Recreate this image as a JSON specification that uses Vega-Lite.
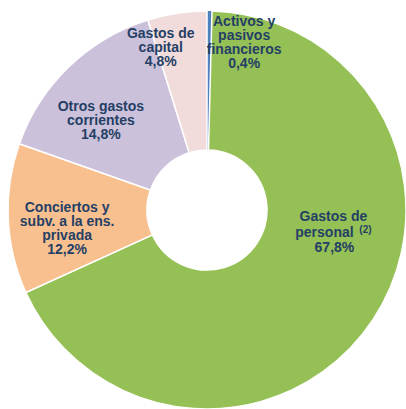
{
  "$schema": "https://vega.github.io/schema/vega-lite/v6.json",
  "width": 398,
  "height": 400,
  "padding": {"left": 8, "top": 10, "right": 0, "bottom": 0},
  "autosize": {"type": "none"},
  "background": "white",
  "config": {"view": {"stroke": null}},
  "data": {
    "values": [
      {"idx": 1, "cat": "Activos", "value": 0.4, "label": "Activos y\npasivos\nfinancieros\n0,4%", "line2": "", "note": "", "line3": ""},
      {"idx": 2, "cat": "Personal", "value": 67.8, "label": "Gastos de", "line2": "personal", "note": "(2)", "line3": "67,8%"},
      {"idx": 3, "cat": "Conciertos", "value": 12.2, "label": "Conciertos y\nsubv. a la ens.\nprivada\n12,2%", "line2": "", "note": "", "line3": ""},
      {"idx": 4, "cat": "Otros", "value": 14.8, "label": "Otros gastos\ncorrientes\n14,8%", "line2": "", "note": "", "line3": ""},
      {"idx": 5, "cat": "Capital", "value": 4.8, "label": "Gastos de\ncapital\n4,8%", "line2": "", "note": "", "line3": ""}
    ]
  },
  "encoding": {
    "theta": {"field": "value", "type": "quantitative", "stack": true},
    "order": {"field": "idx", "type": "quantitative"}
  },
  "layer": [
    {
      "mark": {"type": "arc", "outerRadius": 199, "innerRadius": 60, "stroke": "white"},
      "encoding": {
        "color": {
          "field": "cat", "type": "nominal", "legend": null,
          "scale": {
            "domain": ["Activos", "Personal", "Conciertos", "Otros", "Capital"],
            "range": ["#4F81BD", "#95C055", "#F9C08F", "#CCC1DA", "#F2DCDB"]
          }
        },
        "strokeWidth": {"condition": {"test": "datum.cat == 'Activos'", "value": 0}, "value": 1.5}
      }
    },
    {
      "mark": {"type": "text", "radius": 170, "dx": 35, "dy": -18, "lineBreak": "\n", "font": "Liberation Sans", "fontWeight": "bold", "fontSize": 14, "lineHeight": 14, "color": "#243F66", "align": "center", "baseline": "middle"},
      "encoding": {"text": {"condition": {"test": "datum.cat == 'Activos'", "field": "label"}, "value": ""}}
    },
    {
      "mark": {"type": "text", "radius": 130, "dx": 18, "dy": -65, "font": "Liberation Sans", "fontWeight": "bold", "fontSize": 14, "color": "#243F66", "align": "center", "baseline": "middle"},
      "encoding": {"text": {"condition": {"test": "datum.cat == 'Personal'", "field": "label"}, "value": ""}}
    },
    {
      "mark": {"type": "text", "radius": 130, "dx": 9, "dy": -48.5, "font": "Liberation Sans", "fontWeight": "bold", "fontSize": 14, "color": "#243F66", "align": "center", "baseline": "middle"},
      "encoding": {"text": {"field": "line2"}}
    },
    {
      "mark": {"type": "text", "radius": 130, "dx": 50, "dy": -52, "font": "Liberation Sans", "fontWeight": "bold", "fontSize": 10, "color": "#243F66", "align": "center", "baseline": "middle"},
      "encoding": {"text": {"field": "note"}}
    },
    {
      "mark": {"type": "text", "radius": 130, "dx": 19, "dy": -34, "font": "Liberation Sans", "fontWeight": "bold", "fontSize": 14, "color": "#243F66", "align": "center", "baseline": "middle"},
      "encoding": {"text": {"field": "line3"}}
    },
    {
      "mark": {"type": "text", "radius": 140, "dx": 0, "dy": -8, "lineBreak": "\n", "font": "Liberation Sans", "fontWeight": "bold", "fontSize": 14, "lineHeight": 14, "color": "#243F66", "align": "center", "baseline": "middle"},
      "encoding": {"text": {"condition": {"test": "datum.cat == 'Conciertos'", "field": "label"}, "value": ""}}
    },
    {
      "mark": {"type": "text", "radius": 140, "dx": -9, "dy": -2, "lineBreak": "\n", "font": "Liberation Sans", "fontWeight": "bold", "fontSize": 14, "lineHeight": 14, "color": "#243F66", "align": "center", "baseline": "middle"},
      "encoding": {"text": {"condition": {"test": "datum.cat == 'Otros'", "field": "label"}, "value": ""}}
    },
    {
      "mark": {"type": "text", "radius": 168, "dx": -21, "dy": -10, "lineBreak": "\n", "font": "Liberation Sans", "fontWeight": "bold", "fontSize": 14, "lineHeight": 14, "color": "#243F66", "align": "center", "baseline": "middle"},
      "encoding": {"text": {"condition": {"test": "datum.cat == 'Capital'", "field": "label"}, "value": ""}}
    }
  ]
}
